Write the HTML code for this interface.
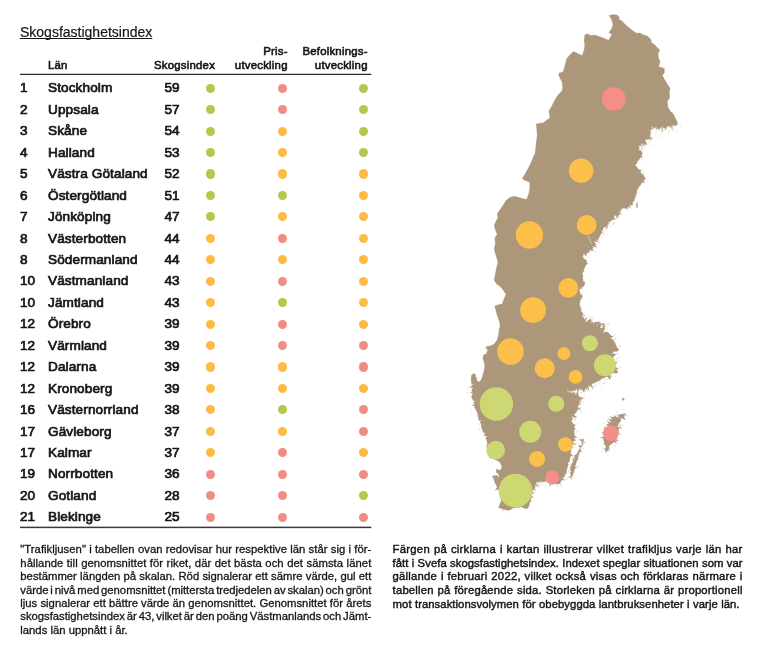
<!DOCTYPE html>
<html lang="sv"><head><meta charset="utf-8">
<title>Skogsfastighetsindex</title>
<style>
*{margin:0;padding:0;box-sizing:border-box}
html,body{width:768px;height:645px;background:#fff;overflow:hidden}
body{position:relative;font-family:"Liberation Sans",sans-serif;color:#151514}
.abs{position:absolute;white-space:nowrap}
.title{left:20px;top:22px;font-size:14px;line-height:20px;text-decoration:underline;text-underline-offset:1px;-webkit-text-stroke:0.2px #151514;text-decoration-thickness:1px;text-decoration-skip-ink:none}
.hd{font-size:11.4px;line-height:13.5px;letter-spacing:0.22px;-webkit-text-stroke:0.6px #151514;text-align:right}
.rule{position:absolute;left:20px;width:351px;height:0;border-top:1.3px solid #3c3c3b}
.row{position:absolute;left:20px;width:351px;height:21.445px;line-height:21.445px;font-size:13.6px;-webkit-text-stroke:0.7px #151514}
.row span{position:absolute;top:0;white-space:nowrap}
.row .r{left:0}
.row .n{left:28px;letter-spacing:0.1px}
.row .v{right:191.4px;text-align:right}
.dot{position:absolute;width:9.2px;height:9.2px;border-radius:50%}
.para div{position:absolute;left:0;white-space:nowrap;font-size:11.3px;line-height:13.4px;-webkit-text-stroke:0.3px #151514}
.para.rp div{-webkit-text-stroke:0.42px #151514}
svg{position:absolute;left:0;top:0}
</style></head><body>
<div id="txt" style="position:absolute;left:0;top:0;width:768px;height:645px;will-change:transform">
<div class="abs title">Skogsfastighetsindex</div>
<div class="abs hd" style="left:48px;top:58.6px;text-align:left">Län</div>
<div class="abs hd" style="left:154px;top:58.6px;text-align:left">Skogsindex</div>
<div class="abs hd" style="right:480.3px;top:45.1px">Pris-<br>utveckling</div>
<div class="abs hd" style="right:400.3px;top:45.1px">Befolknings-<br>utveckling</div>
<div class="row" style="top:77.40px"><span class="r">1</span><span class="n">Stockholm</span><span class="v">59</span></div>
<i class="dot" style="left:205.70px;top:83.62px;background:#b7c64e"></i>
<i class="dot" style="left:277.90px;top:83.62px;background:#f18c83"></i>
<i class="dot" style="left:358.90px;top:83.62px;background:#b7c64e"></i>
<div class="row" style="top:98.84px"><span class="r">2</span><span class="n">Uppsala</span><span class="v">57</span></div>
<i class="dot" style="left:205.70px;top:105.07px;background:#b7c64e"></i>
<i class="dot" style="left:277.90px;top:105.07px;background:#f18c83"></i>
<i class="dot" style="left:358.90px;top:105.07px;background:#b7c64e"></i>
<div class="row" style="top:120.29px"><span class="r">3</span><span class="n">Skåne</span><span class="v">54</span></div>
<i class="dot" style="left:205.70px;top:126.51px;background:#b7c64e"></i>
<i class="dot" style="left:277.90px;top:126.51px;background:#fdbb46"></i>
<i class="dot" style="left:358.90px;top:126.51px;background:#b7c64e"></i>
<div class="row" style="top:141.74px"><span class="r">4</span><span class="n">Halland</span><span class="v">53</span></div>
<i class="dot" style="left:205.70px;top:147.96px;background:#b7c64e"></i>
<i class="dot" style="left:277.90px;top:147.96px;background:#fdbb46"></i>
<i class="dot" style="left:358.90px;top:147.96px;background:#b7c64e"></i>
<div class="row" style="top:163.18px"><span class="r">5</span><span class="n">Västra Götaland</span><span class="v">52</span></div>
<i class="dot" style="left:205.70px;top:169.40px;background:#b7c64e"></i>
<i class="dot" style="left:277.90px;top:169.40px;background:#fdbb46"></i>
<i class="dot" style="left:358.90px;top:169.40px;background:#fdbb46"></i>
<div class="row" style="top:184.62px"><span class="r">6</span><span class="n">Östergötland</span><span class="v">51</span></div>
<i class="dot" style="left:205.70px;top:190.85px;background:#b7c64e"></i>
<i class="dot" style="left:277.90px;top:190.85px;background:#b7c64e"></i>
<i class="dot" style="left:358.90px;top:190.85px;background:#fdbb46"></i>
<div class="row" style="top:206.07px"><span class="r">7</span><span class="n">Jönköping</span><span class="v">47</span></div>
<i class="dot" style="left:205.70px;top:212.29px;background:#b7c64e"></i>
<i class="dot" style="left:277.90px;top:212.29px;background:#fdbb46"></i>
<i class="dot" style="left:358.90px;top:212.29px;background:#fdbb46"></i>
<div class="row" style="top:227.52px"><span class="r">8</span><span class="n">Västerbotten</span><span class="v">44</span></div>
<i class="dot" style="left:205.70px;top:233.74px;background:#fdbb46"></i>
<i class="dot" style="left:277.90px;top:233.74px;background:#f18c83"></i>
<i class="dot" style="left:358.90px;top:233.74px;background:#fdbb46"></i>
<div class="row" style="top:248.96px"><span class="r">8</span><span class="n">Södermanland</span><span class="v">44</span></div>
<i class="dot" style="left:205.70px;top:255.18px;background:#fdbb46"></i>
<i class="dot" style="left:277.90px;top:255.18px;background:#fdbb46"></i>
<i class="dot" style="left:358.90px;top:255.18px;background:#fdbb46"></i>
<div class="row" style="top:270.40px"><span class="r">10</span><span class="n">Västmanland</span><span class="v">43</span></div>
<i class="dot" style="left:205.70px;top:276.63px;background:#fdbb46"></i>
<i class="dot" style="left:277.90px;top:276.63px;background:#f18c83"></i>
<i class="dot" style="left:358.90px;top:276.63px;background:#fdbb46"></i>
<div class="row" style="top:291.85px"><span class="r">10</span><span class="n">Jämtland</span><span class="v">43</span></div>
<i class="dot" style="left:205.70px;top:298.07px;background:#fdbb46"></i>
<i class="dot" style="left:277.90px;top:298.07px;background:#b7c64e"></i>
<i class="dot" style="left:358.90px;top:298.07px;background:#fdbb46"></i>
<div class="row" style="top:313.30px"><span class="r">12</span><span class="n">Örebro</span><span class="v">39</span></div>
<i class="dot" style="left:205.70px;top:319.52px;background:#fdbb46"></i>
<i class="dot" style="left:277.90px;top:319.52px;background:#f18c83"></i>
<i class="dot" style="left:358.90px;top:319.52px;background:#fdbb46"></i>
<div class="row" style="top:334.74px"><span class="r">12</span><span class="n">Värmland</span><span class="v">39</span></div>
<i class="dot" style="left:205.70px;top:340.96px;background:#fdbb46"></i>
<i class="dot" style="left:277.90px;top:340.96px;background:#f18c83"></i>
<i class="dot" style="left:358.90px;top:340.96px;background:#f18c83"></i>
<div class="row" style="top:356.19px"><span class="r">12</span><span class="n">Dalarna</span><span class="v">39</span></div>
<i class="dot" style="left:205.70px;top:362.41px;background:#fdbb46"></i>
<i class="dot" style="left:277.90px;top:362.41px;background:#fdbb46"></i>
<i class="dot" style="left:358.90px;top:362.41px;background:#f18c83"></i>
<div class="row" style="top:377.63px"><span class="r">12</span><span class="n">Kronoberg</span><span class="v">39</span></div>
<i class="dot" style="left:205.70px;top:383.85px;background:#fdbb46"></i>
<i class="dot" style="left:277.90px;top:383.85px;background:#fdbb46"></i>
<i class="dot" style="left:358.90px;top:383.85px;background:#fdbb46"></i>
<div class="row" style="top:399.08px"><span class="r">16</span><span class="n">Västernorrland</span><span class="v">38</span></div>
<i class="dot" style="left:205.70px;top:405.30px;background:#fdbb46"></i>
<i class="dot" style="left:277.90px;top:405.30px;background:#b7c64e"></i>
<i class="dot" style="left:358.90px;top:405.30px;background:#f18c83"></i>
<div class="row" style="top:420.52px"><span class="r">17</span><span class="n">Gävleborg</span><span class="v">37</span></div>
<i class="dot" style="left:205.70px;top:426.74px;background:#fdbb46"></i>
<i class="dot" style="left:277.90px;top:426.74px;background:#fdbb46"></i>
<i class="dot" style="left:358.90px;top:426.74px;background:#f18c83"></i>
<div class="row" style="top:441.97px"><span class="r">17</span><span class="n">Kalmar</span><span class="v">37</span></div>
<i class="dot" style="left:205.70px;top:448.19px;background:#fdbb46"></i>
<i class="dot" style="left:277.90px;top:448.19px;background:#f18c83"></i>
<i class="dot" style="left:358.90px;top:448.19px;background:#fdbb46"></i>
<div class="row" style="top:463.41px"><span class="r">19</span><span class="n">Norrbotten</span><span class="v">36</span></div>
<i class="dot" style="left:205.70px;top:469.63px;background:#f18c83"></i>
<i class="dot" style="left:277.90px;top:469.63px;background:#f18c83"></i>
<i class="dot" style="left:358.90px;top:469.63px;background:#f18c83"></i>
<div class="row" style="top:484.86px"><span class="r">20</span><span class="n">Gotland</span><span class="v">28</span></div>
<i class="dot" style="left:205.70px;top:491.08px;background:#f18c83"></i>
<i class="dot" style="left:277.90px;top:491.08px;background:#f18c83"></i>
<i class="dot" style="left:358.90px;top:491.08px;background:#b7c64e"></i>
<div class="row" style="top:506.30px"><span class="r">21</span><span class="n">Blekinge</span><span class="v">25</span></div>
<i class="dot" style="left:205.70px;top:512.52px;background:#f18c83"></i>
<i class="dot" style="left:277.90px;top:512.52px;background:#f18c83"></i>
<i class="dot" style="left:358.90px;top:512.52px;background:#f18c83"></i>
<div class="para" style="position:absolute;left:20.3px;top:543.1px"><div id="L0" style="top:0.00px;letter-spacing:0.018px;word-spacing:0.100px">&quot;Trafikljusen&quot; i tabellen ovan redovisar hur respektive län står sig i för-</div><div id="L1" style="top:13.47px;letter-spacing:0.048px;word-spacing:0.256px">hållande till genomsnittet för riket, där det bästa och det sämsta länet</div><div id="L2" style="top:26.94px;letter-spacing:0.010px;word-spacing:0.056px">bestämmer längden på skalan. Röd signalerar ett sämre värde, gul ett</div><div id="L3" style="top:40.41px;letter-spacing:-0.025px;word-spacing:-1.200px">värde i nivå med genomsnittet (mittersta tredjedelen av skalan) och grönt</div><div id="L4" style="top:53.88px;letter-spacing:0.005px;word-spacing:0.030px">ljus signalerar ett bättre värde än genomsnittet. Genomsnittet för årets</div><div id="L5" style="top:67.35px;letter-spacing:-0.017px;word-spacing:-1.200px">skogsfastighetsindex är 43, vilket är den poäng Västmanlands och Jämt-</div><div id="L6" style="top:80.82px;letter-spacing:0.000px;word-spacing:0.000px">lands län uppnått i år.</div></div>
<div class="para rp" style="position:absolute;left:392.6px;top:543.2px"><div id="R0" style="top:0.00px;letter-spacing:0.262px;word-spacing:0.531px">Färgen på cirklarna i kartan illustrerar vilket trafikljus varje län har</div><div id="R1" style="top:13.60px;letter-spacing:0.044px;word-spacing:0.110px">fått i Svefa skogsfastighetsindex. Indexet speglar situationen som var</div><div id="R2" style="top:27.20px;letter-spacing:0.226px;word-spacing:0.434px">gällande i februari 2022, vilket också visas och förklaras närmare i</div><div id="R3" style="top:40.80px;letter-spacing:0.190px;word-spacing:0.455px">tabellen på föregående sida. Storleken på cirklarna är proportionell</div><div id="R4" style="top:54.40px;letter-spacing:0.055px;word-spacing:0.150px">mot transaktionsvolymen för obebyggda lantbruksenheter i varje län.</div></div>
</div>
<svg width="768" height="645" viewBox="0 0 768 645"><rect x="20" y="73.75" width="351.3" height="1.25" fill="#2b2b2a"/><rect x="20" y="526.65" width="351.3" height="1.5" fill="#3a3a39"/><g fill="#ad977a" stroke="#ad977a" stroke-width="0.3" stroke-linejoin="round"><polygon points="609.0,15.5 613.8,14.5 617.5,15.2 619.4,17.4 618.8,19.2 621.9,21.1 625.0,24.2 628.8,27.4 632.5,30.5 636.2,33.0 640.0,33.0 643.8,34.9 647.5,36.1 650.6,39.2 651.9,43.0 655.0,44.9 657.5,48.0 660.0,49.9 658.1,53.0 658.5,57.4 660.0,61.8 658.8,66.8 662.5,67.8 664.4,68.6 664.4,72.4 662.5,75.5 664.4,79.2 667.5,84.2 670.2,88.5 669.2,92.2 669.9,97.2 667.4,101.6 668.0,107.2 670.5,111.6 673.0,113.5 674.9,117.2 676.8,121.0 677.8,124.1 677.2,124.6 676.3,124.9 676.1,125.6 675.1,125.7 674.0,125.5 673.0,125.1 672.3,125.7 672.2,129.3 670.4,124.4 670.4,127.8 669.2,126.4 668.3,126.5 667.1,125.9 666.8,127.4 666.1,127.9 666.1,129.7 664.2,127.8 663.6,128.4 661.8,125.9 662.3,129.9 662.2,132.7 661.3,126.6 659.4,129.6 658.8,128.6 657.4,128.5 657.2,127.2 656.5,126.4 656.4,129.1 658.4,128.2 655.1,127.6 653.8,128.8 653.0,127.2 651.3,125.9 651.9,127.8 652.3,128.7 650.9,129.3 651.4,130.2 649.3,130.5 650.9,131.9 650.8,132.8 650.4,133.6 650.6,134.6 650.1,135.5 649.1,135.9 652.9,138.8 649.3,137.9 651.3,139.9 647.8,138.9 647.3,139.8 645.3,138.9 645.4,140.6 647.1,144.7 645.8,144.6 643.7,143.2 645.0,146.7 641.9,143.6 640.9,143.8 641.8,146.5 639.2,145.0 639.1,146.4 638.8,146.7 638.9,147.2 639.7,148.0 637.7,150.6 640.3,149.9 640.4,150.9 641.6,151.3 642.1,152.1 641.9,153.0 642.6,153.8 642.2,154.6 641.4,155.2 641.4,156.1 642.5,157.6 640.2,157.4 640.1,158.3 639.4,158.9 639.0,159.6 638.5,160.3 638.2,161.1 636.9,161.3 637.6,162.7 636.7,163.3 636.1,163.9 635.6,164.7 635.1,165.6 636.2,166.0 636.5,167.0 637.2,167.6 637.6,168.4 638.4,168.8 638.8,169.5 639.5,170.1 641.5,169.9 640.3,171.6 640.6,172.4 641.0,173.1 641.5,173.8 642.3,174.3 643.7,174.2 643.5,175.6 644.0,176.3 644.6,177.0 644.1,177.9 645.9,178.3 645.0,179.5 643.9,180.0 643.7,181.0 644.4,182.9 642.4,182.5 641.6,183.1 641.0,183.8 640.8,184.8 640.3,185.5 639.5,186.0 639.1,186.8 638.3,187.4 638.2,188.3 637.9,189.1 637.1,189.6 637.0,190.5 636.7,191.3 636.7,192.1 636.6,193.0 637.0,194.0 635.6,194.5 636.0,195.5 635.2,196.2 635.7,197.3 635.0,198.0 634.8,198.9 634.1,199.6 634.3,200.6 633.5,201.2 633.1,202.1 632.4,202.6 632.9,204.4 632.2,205.1 630.6,204.8 629.6,205.2 630.7,208.0 628.3,206.6 627.6,207.3 627.7,209.3 625.7,207.8 625.1,208.5 624.0,208.5 622.0,207.4 622.4,209.6 620.4,208.7 621.1,211.1 620.4,211.8 618.0,211.3 621.3,214.1 618.9,214.3 618.6,215.2 618.4,216.1 616.6,218.7 616.7,215.4 615.6,215.7 614.8,215.1 614.3,215.7 614.2,216.6 613.9,217.4 615.4,219.4 613.0,218.9 613.2,220.3 611.5,219.9 610.9,220.5 610.7,221.5 609.9,222.0 607.2,221.9 609.2,223.6 608.5,223.9 608.1,224.9 607.1,224.8 607.7,227.9 605.3,225.3 606.7,227.4 604.1,226.8 603.8,227.7 603.1,228.3 603.2,229.4 602.5,230.2 601.6,230.8 602.2,232.1 601.9,233.0 601.2,233.7 600.6,234.4 600.4,235.3 599.7,236.0 599.3,236.8 599.1,237.8 598.5,238.5 597.8,239.0 597.2,239.7 596.3,240.0 598.4,242.2 594.0,241.1 594.8,242.3 594.7,243.2 596.7,244.7 594.4,245.0 596.7,247.3 592.4,245.8 593.1,247.2 593.1,248.1 592.3,248.7 593.5,250.5 591.5,250.4 588.8,249.4 589.8,251.6 589.2,252.3 588.5,252.8 587.0,252.1 586.9,253.7 586.3,254.9 585.1,256.0 584.7,254.0 583.9,254.1 583.1,253.8 583.4,254.8 583.1,255.7 582.4,256.5 582.8,257.4 583.5,257.9 584.0,258.8 584.9,259.2 585.8,259.9 586.5,260.5 586.5,261.6 587.0,262.4 587.4,263.1 587.2,264.2 586.3,264.7 585.7,265.5 585.1,266.3 585.1,267.2 584.6,267.9 584.1,268.7 584.0,269.5 584.1,270.5 583.5,271.2 583.4,272.0 583.0,272.8 581.9,273.5 582.7,274.5 582.9,275.5 582.8,276.3 582.7,277.1 583.0,277.9 582.5,278.8 583.1,279.6 583.2,280.4 582.9,281.4 583.8,281.6 584.5,281.8 584.7,282.6 585.0,283.5 584.6,284.4 584.1,285.3 583.8,286.3 582.9,287.0 581.8,286.8 581.6,289.2 579.8,287.3 580.1,288.4 580.0,289.2 579.1,289.9 579.5,290.8 579.5,291.7 580.4,292.4 580.0,293.3 580.1,294.4 581.8,294.8 582.3,296.1 582.4,297.5 580.7,298.2 581.6,299.3 579.9,300.0 579.8,300.8 580.0,301.7 580.2,302.5 579.5,303.3 579.7,304.2 579.8,305.0 579.8,305.8 580.2,306.6 580.2,307.5 580.3,308.3 581.6,309.0 580.3,309.9 580.7,310.5 581.1,311.3 581.8,311.7 582.1,312.6 582.8,313.0 583.0,313.8 583.0,314.7 582.7,315.6 582.3,316.6 582.4,317.4 582.9,317.5 583.9,317.5 584.2,318.7 584.8,319.4 587.3,317.1 585.2,321.6 586.2,321.9 589.9,318.9 590.9,319.3 590.8,320.5 590.2,323.1 591.4,322.9 591.6,320.8 594.7,325.5 593.6,322.6 594.8,322.4 595.0,321.8 594.1,322.6 599.5,321.8 599.4,322.9 596.1,325.2 597.1,325.5 600.3,322.4 600.3,324.1 601.8,323.4 599.9,327.9 600.9,328.3 602.3,327.6 602.9,328.4 605.0,327.8 602.3,326.8 603.3,326.0 603.1,325.1 600.2,324.0 603.4,323.6 604.5,323.3 604.1,324.5 604.7,325.3 604.8,326.1 604.9,327.0 602.5,328.3 605.4,328.7 603.8,330.4 603.8,331.3 602.9,332.7 606.4,331.8 607.4,332.1 608.0,332.6 608.8,333.1 609.3,333.9 610.0,334.5 610.7,335.0 611.0,336.0 613.7,336.1 610.4,338.2 611.5,339.0 613.0,339.2 613.2,340.1 613.4,341.1 614.5,341.4 614.7,342.4 614.5,343.5 616.1,343.6 615.6,344.9 615.8,345.7 617.0,346.5 616.7,347.5 618.5,348.8 618.3,350.5 617.5,351.3 615.4,351.5 614.1,351.2 613.6,352.2 612.9,352.8 611.9,353.1 612.2,354.0 614.9,353.9 616.1,354.3 613.2,356.6 613.6,357.4 611.1,359.1 613.9,359.2 614.7,360.0 614.5,360.9 613.9,361.8 617.4,362.4 615.2,363.4 614.2,364.3 616.2,365.1 615.1,366.0 614.2,366.7 617.7,368.3 618.1,369.2 614.7,369.4 617.5,370.9 617.8,372.8 615.2,373.2 612.8,372.7 612.0,373.3 611.8,374.3 609.5,373.1 610.2,375.3 610.3,378.5 609.8,379.7 608.0,376.7 607.1,376.5 606.3,377.0 605.1,376.7 604.6,377.7 604.0,378.6 602.7,378.1 601.8,378.4 601.1,379.2 600.6,380.2 599.5,380.1 599.1,381.3 597.7,380.7 597.1,381.7 596.1,381.9 595.1,382.2 594.6,383.1 593.7,383.5 592.5,383.5 591.7,384.0 592.8,388.7 590.1,385.0 589.5,386.2 588.3,385.8 588.9,389.9 586.7,386.9 587.0,390.0 585.1,387.8 585.1,390.2 584.5,391.1 584.1,391.9 582.7,390.6 581.0,389.3 579.5,388.2 579.5,390.2 578.6,390.0 577.9,391.1 577.1,390.4 576.1,388.2 575.4,391.1 574.5,390.4 573.7,390.3 572.8,390.9 572.0,391.3 571.1,390.6 570.5,392.4 569.4,390.9 568.5,390.9 567.4,389.1 566.7,390.5 566.0,391.6 567.4,389.4 567.7,391.9 568.7,391.8 569.4,392.4 570.3,392.6 571.2,392.7 572.0,392.8 572.9,393.0 573.7,393.4 574.8,392.2 575.2,394.3 576.0,394.8 577.9,390.4 578.0,393.7 578.6,394.7 578.6,395.2 578.5,396.0 579.2,396.8 580.8,397.4 583.2,398.0 582.2,398.9 579.0,400.2 581.6,401.1 579.7,402.0 578.5,402.5 581.2,404.1 578.6,404.4 578.7,405.3 577.8,405.9 578.2,406.9 577.7,407.7 580.8,409.3 577.5,409.4 577.4,410.2 576.7,410.9 577.0,412.0 575.3,412.1 575.9,413.3 575.1,413.8 573.5,413.9 574.9,415.8 576.7,418.0 573.5,417.0 571.1,416.5 572.7,418.6 572.3,419.5 572.1,420.4 569.2,421.1 572.0,421.6 572.3,422.5 572.7,423.3 573.3,424.0 574.1,424.6 575.7,425.1 574.0,426.8 574.3,427.7 575.6,428.5 574.5,429.4 574.4,430.4 574.1,431.3 573.8,432.2 574.4,433.1 574.2,434.2 574.7,435.1 574.7,436.0 577.4,437.8 574.1,437.8 574.2,438.9 576.0,440.5 573.8,440.8 573.4,441.7 572.6,442.5 575.7,444.3 572.4,444.3 572.3,445.2 572.5,446.0 571.8,446.8 572.4,447.7 571.6,448.5 570.5,449.2 571.7,450.4 570.4,451.1 571.1,452.2 570.9,453.2 570.6,454.1 573.1,455.5 570.7,456.0 570.2,456.9 570.3,457.9 569.8,458.7 569.7,459.6 569.6,460.6 569.4,461.5 568.6,462.2 567.5,462.9 568.6,464.2 568.1,465.0 567.9,465.9 567.7,466.8 567.3,467.7 567.0,468.5 566.6,469.4 566.8,470.4 566.5,471.3 566.3,472.2 566.7,473.2 565.6,473.7 565.1,474.4 564.6,475.2 564.8,476.1 564.2,476.8 563.9,477.7 562.1,477.6 564.6,480.2 562.4,480.0 561.6,480.4 561.3,481.3 560.7,482.0 560.0,482.5 560.5,484.6 558.9,483.6 558.2,484.0 557.3,484.2 556.4,483.8 555.6,484.0 554.6,481.9 554.0,484.6 553.1,484.3 552.3,484.1 551.5,483.8 550.0,486.2 549.9,483.6 549.1,482.7 548.1,482.7 547.1,482.5 546.8,479.8 545.3,482.1 544.4,481.6 543.4,481.9 542.5,481.6 541.7,481.5 540.9,482.1 539.9,481.6 539.1,482.0 538.3,482.0 537.5,482.6 536.2,481.4 536.3,483.1 535.7,484.4 537.5,484.5 537.8,485.7 536.6,485.9 535.0,484.9 535.1,488.2 533.4,488.4 534.4,488.4 533.6,487.3 533.3,488.2 535.6,489.4 532.6,490.1 532.8,491.1 531.2,491.8 534.0,493.2 532.4,493.7 530.4,494.2 531.7,495.3 531.9,496.2 533.3,497.5 530.9,497.7 531.0,498.6 530.7,499.4 530.5,500.3 531.4,501.4 530.1,501.9 529.1,502.5 529.6,503.4 529.5,504.2 529.3,505.0 529.0,505.7 528.7,506.5 528.0,507.1 528.2,508.2 527.4,508.4 526.6,508.6 525.8,508.7 525.0,508.7 524.2,508.3 523.5,507.7 522.6,507.5 521.9,507.1 520.9,506.9 519.9,507.2 519.0,507.5 518.0,507.5 517.0,507.6 516.1,507.6 515.2,507.7 514.3,507.9 513.4,508.2 512.5,508.0 511.8,508.8 510.9,509.1 510.4,509.9 509.3,509.9 508.5,510.5 507.6,510.2 506.6,510.0 505.7,510.0 504.8,509.6 503.8,509.5 502.8,509.2 502.0,508.7 501.0,508.4 500.2,508.2 499.3,508.1 498.4,507.9 498.8,507.0 499.3,506.0 499.3,505.0 499.9,504.1 500.3,503.4 500.4,502.5 500.9,501.8 501.2,501.0 501.0,500.2 501.1,499.3 500.9,498.5 500.6,497.7 500.6,496.9 500.4,496.0 500.6,495.1 500.3,494.2 500.1,493.3 500.0,492.4 499.8,491.5 499.6,490.7 499.4,489.9 498.5,489.5 497.5,489.5 495.5,489.7 496.7,488.1 497.4,487.3 496.7,486.6 496.6,485.7 496.1,485.0 495.8,484.3 495.3,483.5 494.9,482.6 494.6,481.7 494.2,480.7 494.0,479.8 493.9,478.8 493.5,477.9 492.3,477.2 492.7,475.9 493.8,475.8 494.6,475.6 495.5,475.4 496.7,475.3 497.5,476.0 498.1,476.9 499.2,477.4 499.0,476.4 498.8,475.7 498.8,474.9 498.6,474.0 497.8,473.4 496.9,472.8 496.0,472.3 496.1,471.4 496.5,470.6 496.0,468.8 497.6,469.8 498.5,470.1 499.4,470.3 500.3,470.3 500.8,469.6 501.2,468.8 501.7,468.1 501.9,467.2 501.7,466.5 501.3,465.7 501.3,464.9 500.9,464.2 500.4,463.5 499.9,462.7 499.6,461.8 498.6,461.5 497.7,460.9 496.9,460.3 495.9,460.0 495.2,459.5 494.4,459.1 493.4,459.0 492.7,458.6 491.8,458.3 491.0,457.9 489.6,458.2 489.6,457.0 489.2,456.2 488.6,455.6 487.9,455.0 487.8,454.2 487.5,453.4 487.4,452.5 487.3,451.7 487.0,450.9 486.8,450.0 487.2,449.1 487.1,448.3 487.1,447.4 486.1,446.5 487.3,445.7 487.2,444.8 487.2,444.0 487.1,443.1 487.4,442.2 486.9,441.3 486.7,440.4 486.2,439.5 485.9,438.5 486.0,437.5 487.4,436.0 484.6,436.0 484.5,435.1 484.6,434.1 485.8,432.6 483.2,433.0 483.6,431.8 482.3,431.5 482.9,430.4 482.3,429.6 481.9,428.8 481.6,428.0 481.4,427.2 481.6,426.2 481.0,425.4 481.3,424.3 480.8,423.4 480.0,422.6 480.2,421.7 481.8,419.9 479.0,420.4 478.5,419.7 478.5,418.8 478.7,417.9 478.1,417.1 478.0,416.3 478.1,415.4 477.4,414.7 477.9,413.8 477.6,412.9 477.0,412.1 476.9,411.1 476.1,410.4 475.8,409.5 475.3,408.6 474.5,407.9 474.6,406.9 475.0,405.9 472.3,405.6 474.6,404.2 473.9,403.4 473.7,402.6 475.8,401.2 473.5,400.9 473.3,400.1 472.7,399.3 471.9,398.6 471.8,397.5 471.5,396.5 471.8,395.7 472.0,394.8 472.2,393.9 473.2,393.1 470.4,392.6 472.4,391.4 471.9,390.6 471.9,389.7 472.1,388.8 473.8,387.7 469.6,387.4 472.0,386.2 471.4,385.5 473.7,384.3 471.5,383.8 471.5,382.9 471.3,382.1 471.2,381.3 471.1,380.4 471.2,379.6 471.0,378.8 471.2,377.8 471.2,376.9 471.4,375.9 471.6,375.0 472.2,374.5 472.8,373.9 473.5,373.4 474.5,373.8 475.3,374.5 475.5,375.2 475.8,375.9 475.4,376.8 476.5,377.4 476.8,378.3 476.6,379.4 477.0,380.3 477.3,381.2 478.1,381.5 478.9,381.7 479.7,381.7 480.1,381.1 480.7,380.3 481.1,379.5 481.6,378.7 482.0,377.8 482.2,376.9 482.7,376.0 482.8,375.0 483.1,374.2 483.4,373.3 483.6,372.5 483.7,371.7 484.0,370.8 484.1,370.0 484.2,369.2 484.3,368.3 484.4,367.5 484.6,366.7 484.6,365.8 484.7,365.0 484.6,364.2 484.3,363.3 484.0,362.5 483.9,361.7 483.7,360.8 483.5,360.0 482.8,359.0 483.4,355.2 486.5,353.4 487.8,349.6 485.9,348.4 486.5,346.5 490.2,345.9 494.0,344.0 497.1,340.2 498.4,335.2 499.0,330.2 500.2,325.2 499.0,320.2 497.1,315.2 495.9,310.2 494.6,305.9 499.0,304.6 502.1,304.0 504.0,299.0 505.9,294.6 503.4,290.2 500.2,286.5 496.5,284.0 494.1,280.0 495.4,273.8 496.6,267.5 497.9,262.5 497.0,258.8 495.4,253.8 494.1,248.8 495.4,243.8 494.8,238.1 497.2,234.4 495.4,230.0 494.1,225.6 496.0,221.2 497.9,217.5 497.2,213.8 499.8,210.0 502.9,205.6 506.0,200.6 509.8,197.5 514.1,196.2 519.1,197.5 523.5,198.8 526.6,199.4 529.1,192.5 529.8,187.5 529.8,182.5 527.2,181.2 524.1,180.0 522.2,178.5 525.0,174.1 528.1,168.5 531.2,162.2 533.1,157.2 535.0,153.5 535.6,148.5 536.2,142.2 537.2,136.0 536.9,131.0 536.2,124.1 539.4,123.2 543.1,122.9 546.2,120.4 550.0,117.9 548.8,111.0 551.9,106.0 553.5,102.5 556.0,98.1 559.1,93.8 562.2,90.6 562.5,87.5 562.2,82.5 560.4,78.8 558.5,75.0 559.1,73.1 562.9,71.9 564.1,68.8 565.4,63.8 566.6,58.8 569.8,55.0 573.5,51.5 578.5,53.8 582.2,55.6 584.1,50.0 584.8,45.0 584.1,40.0 584.8,35.0 587.2,33.8 591.0,35.6 594.8,35.0 598.5,36.2 603.5,38.1 608.5,40.2 609.5,38.5 611.9,34.5 608.7,32.5 611.6,28.9 612.9,24.8 612.0,20.6 610.3,17.2"/><polygon points="583.1,438.5 583.7,439.6 583.5,440.4 583.4,441.3 583.4,442.3 583.3,443.2 582.6,444.1 582.6,445.0 582.2,445.9 581.6,446.6 581.2,447.5 581.0,448.3 580.6,449.1 580.5,450.0 582.1,451.5 580.0,451.7 579.4,452.5 579.3,453.3 579.2,454.2 578.7,455.0 578.3,455.8 578.2,456.7 577.8,457.5 577.8,458.4 578.6,459.6 577.0,460.0 576.9,460.9 576.6,461.7 576.2,462.5 575.9,463.3 575.8,464.1 575.7,465.0 575.4,465.8 574.4,466.5 576.6,467.9 574.9,468.3 574.6,469.2 574.3,470.0 574.2,470.9 574.0,471.8 573.7,472.7 573.3,473.6 572.9,474.4 572.7,475.3 572.4,476.2 570.9,476.5 571.8,477.8 571.7,478.6 571.2,479.5 571.2,478.6 571.2,477.8 568.9,477.3 570.8,476.3 570.6,475.4 570.8,474.6 570.4,473.8 570.4,472.9 570.6,472.1 571.7,471.2 570.4,470.4 570.4,469.5 570.5,468.6 570.4,467.8 570.5,466.9 570.8,466.0 571.4,465.3 571.6,464.5 571.9,463.6 572.4,462.9 572.7,462.0 573.2,461.3 573.5,460.5 571.9,458.7 574.2,458.9 574.7,458.1 573.9,456.7 575.3,456.5 574.2,455.0 576.2,455.0 576.7,454.2 576.9,453.4 577.5,452.7 577.9,451.9 578.2,451.1 578.7,450.4 579.1,449.6 579.5,448.8 581.1,448.4 580.0,447.2 578.1,445.7 580.5,445.6 583.3,445.7 581.1,444.0 582.9,443.6 581.6,442.2 582.0,441.4 579.2,439.6 582.5,439.6 583.3,438.7"/><polygon points="625.5,413.7 625.3,414.6 624.6,415.3 624.5,416.3 623.7,416.9 625.6,419.7 622.4,418.4 619.7,417.5 621.3,420.0 620.7,420.8 620.3,421.8 619.4,422.4 618.9,423.2 618.8,424.0 618.0,424.6 618.1,425.6 617.3,426.2 617.6,427.2 621.2,427.3 618.2,429.1 618.6,430.0 618.3,430.8 618.7,431.7 618.6,432.5 618.4,433.3 618.7,434.2 616.1,434.3 618.2,435.9 617.4,436.6 617.0,437.4 616.4,438.2 616.2,439.1 617.9,441.3 614.9,440.5 616.7,443.6 614.0,442.1 613.2,442.6 612.6,443.2 611.8,443.8 610.9,444.3 610.3,445.1 609.4,445.6 609.0,446.4 608.9,447.2 609.7,448.5 608.0,448.7 609.1,450.2 607.2,450.4 607.1,451.4 606.3,451.8 605.7,452.2 604.9,452.6 606.7,451.8 605.1,450.8 605.9,450.1 603.8,448.7 605.9,448.5 605.9,447.6 606.3,446.9 605.7,446.2 605.2,445.4 604.6,444.7 604.2,443.8 604.3,442.8 604.3,441.8 603.7,441.0 603.7,440.0 603.4,439.2 603.4,438.3 600.3,437.6 605.7,436.5 603.7,435.7 604.9,434.8 603.3,434.0 601.7,432.7 603.6,432.3 604.3,431.6 604.3,430.8 604.6,430.1 605.0,429.3 604.0,427.1 606.1,428.0 606.8,427.4 607.6,426.9 608.1,426.3 606.2,424.5 608.6,424.3 608.7,423.3 607.1,421.3 611.9,423.1 608.3,419.1 611.1,419.9 611.9,419.3 610.2,416.6 613.0,417.6 613.7,416.7 616.4,415.3 615.0,418.1 615.8,417.3 616.8,416.8 618.4,418.3 618.7,416.2 618.3,414.0 620.4,415.0 621.1,414.1 622.1,414.3 622.9,413.7 623.8,413.9 624.7,413.5 625.6,413.6"/><polygon points="622.1,398.4 623.6,398.1 624.4,399.6 623.4,400.6 622.4,400.0"/><polygon points="636.4,203.3 637.4,203.1 637.7,206.0 637.2,208.1 636.5,207.5"/></g><g fill="#ad977a"><polygon points="680.1,126.9 680.8,126.2 680.9,125.2 680.2,125.9" opacity="0.63"/><polygon points="677.6,131.2 678.1,130.8 678.2,130.1 677.7,130.5" opacity="0.59"/><polygon points="675.0,129.9 675.7,129.6 676.0,128.9 675.4,129.2" opacity="0.62"/><polygon points="672.4,131.3 673.3,130.7 673.7,129.7 672.8,130.3" opacity="0.64"/><polygon points="672.2,129.3 672.8,128.5 672.9,127.5 672.3,128.3" opacity="0.76"/><polygon points="672.2,130.5 673.1,130.2 673.6,129.4 672.7,129.7" opacity="0.71"/><polygon points="671.3,131.0 672.1,130.7 672.7,129.9 671.8,130.3" opacity="0.41"/><polygon points="669.1,132.0 669.7,131.5 669.8,130.8 669.3,131.3" opacity="0.40"/><polygon points="667.2,133.9 668.2,133.1 668.6,131.9 667.6,132.7" opacity="0.44"/><polygon points="666.1,129.6 666.5,129.2 666.6,128.6 666.1,129.1" opacity="0.72"/><polygon points="663.2,131.3 664.0,130.7 664.4,129.8 663.6,130.4" opacity="0.73"/><polygon points="662.1,130.6 662.7,130.2 662.9,129.6 662.3,129.9" opacity="0.76"/><polygon points="657.7,130.3 658.8,129.9 659.5,129.0 658.4,129.4" opacity="0.88"/><polygon points="656.5,130.3 657.1,129.9 657.5,129.2 656.8,129.6" opacity="0.90"/><polygon points="654.8,130.9 655.7,130.6 656.2,129.8 655.4,130.1" opacity="0.59"/><polygon points="652.6,129.4 653.2,128.7 653.4,127.7 652.7,128.4" opacity="0.90"/><polygon points="651.5,129.6 652.4,129.2 652.9,128.3 652.0,128.8" opacity="0.90"/><polygon points="650.9,138.1 652.0,137.7 652.7,136.7 651.6,137.1" opacity="0.69"/><polygon points="648.2,142.1 648.8,141.9 649.2,141.4 648.5,141.6" opacity="0.84"/><polygon points="642.4,145.2 642.9,144.7 643.0,144.0 642.5,144.5" opacity="0.72"/><polygon points="642.0,147.6 642.7,146.9 642.9,145.8 642.2,146.6" opacity="0.78"/><polygon points="638.5,147.0 639.4,146.2 639.7,145.0 638.8,145.9" opacity="0.79"/><polygon points="641.4,149.1 642.6,148.4 643.1,147.1 641.9,147.8" opacity="0.62"/><polygon points="642.3,149.0 643.0,148.6 643.2,147.9 642.6,148.3" opacity="0.58"/><polygon points="640.8,150.5 641.7,149.9 642.2,148.9 641.3,149.5" opacity="0.90"/><polygon points="643.2,150.4 644.2,149.8 644.8,148.7 643.7,149.3" opacity="0.62"/><polygon points="644.0,157.9 645.0,157.3 645.5,156.3 644.5,156.9" opacity="0.33"/><polygon points="642.4,159.7 643.1,159.2 643.4,158.4 642.7,158.9" opacity="0.45"/><polygon points="640.9,159.9 641.6,159.5 642.0,158.7 641.2,159.2" opacity="0.60"/><polygon points="641.2,162.2 642.1,161.9 642.6,161.0 641.7,161.4" opacity="0.39"/><polygon points="642.8,170.3 643.4,169.8 643.7,168.9 643.0,169.5" opacity="0.35"/><polygon points="642.2,172.6 642.9,172.3 643.3,171.7 642.6,171.9" opacity="0.86"/><polygon points="642.0,172.5 642.7,172.1 643.0,171.4 642.3,171.8" opacity="0.75"/><polygon points="643.1,184.4 643.6,183.9 643.6,183.2 643.2,183.7" opacity="0.69"/><polygon points="638.6,193.5 639.1,193.0 639.1,192.3 638.7,192.8" opacity="0.47"/><polygon points="639.3,193.8 640.2,193.1 640.6,192.0 639.7,192.7" opacity="0.25"/><polygon points="637.3,196.5 637.9,195.8 638.0,194.9 637.4,195.6" opacity="0.61"/><polygon points="636.5,202.3 637.4,201.2 637.5,199.8 636.6,200.9" opacity="0.30"/><polygon points="631.0,206.2 632.0,205.5 632.3,204.4 631.4,205.1" opacity="0.76"/><polygon points="630.7,209.0 631.2,208.5 631.4,207.8 630.8,208.3" opacity="0.50"/><polygon points="629.1,211.4 629.7,211.0 629.9,210.3 629.4,210.7" opacity="0.55"/><polygon points="625.9,210.0 627.0,209.1 627.4,207.8 626.3,208.7" opacity="0.89"/><polygon points="626.4,210.6 627.1,210.2 627.4,209.5 626.8,209.9" opacity="0.73"/><polygon points="619.4,213.9 620.4,213.1 620.8,211.9 619.8,212.7" opacity="0.90"/><polygon points="614.0,220.1 615.2,219.6 615.9,218.5 614.7,219.0" opacity="0.37"/><polygon points="617.8,219.1 618.7,218.6 619.1,217.6 618.2,218.1" opacity="0.38"/><polygon points="614.0,223.7 615.0,223.0 615.5,221.9 614.4,222.6" opacity="0.41"/><polygon points="612.9,225.1 613.8,224.2 614.0,223.0 613.1,223.9" opacity="0.57"/><polygon points="612.8,223.3 613.6,223.0 614.0,222.2 613.2,222.6" opacity="0.36"/><polygon points="612.0,223.2 612.7,222.8 613.0,222.0 612.3,222.5" opacity="0.56"/><polygon points="610.7,226.6 611.8,225.9 612.3,224.7 611.2,225.4" opacity="0.62"/><polygon points="606.5,229.4 607.3,228.7 607.6,227.5 606.7,228.3" opacity="0.39"/><polygon points="606.4,229.5 607.2,228.7 607.4,227.7 606.6,228.4" opacity="0.73"/><polygon points="604.9,229.8 606.1,229.2 606.7,228.1 605.5,228.6" opacity="0.77"/><polygon points="605.2,231.4 605.8,231.1 606.1,230.6 605.5,230.9" opacity="0.45"/><polygon points="603.2,232.9 604.4,232.3 605.1,231.2 603.9,231.7" opacity="0.78"/><polygon points="602.5,235.2 603.6,234.6 604.1,233.5 603.1,234.1" opacity="0.86"/><polygon points="600.7,238.4 602.0,237.8 602.6,236.6 601.4,237.2" opacity="0.69"/><polygon points="598.0,240.6 598.9,239.6 599.1,238.3 598.2,239.2" opacity="0.63"/><polygon points="597.5,241.1 598.5,240.6 599.0,239.6 598.0,240.1" opacity="0.90"/><polygon points="598.6,243.8 599.7,243.2 600.2,242.0 599.1,242.6" opacity="0.37"/><polygon points="596.9,242.7 597.5,242.1 597.7,241.4 597.1,241.9" opacity="0.78"/><polygon points="594.6,247.9 595.5,246.8 595.6,245.4 594.7,246.5" opacity="0.88"/><polygon points="594.1,248.5 594.6,248.2 594.9,247.6 594.4,247.9" opacity="0.64"/><polygon points="595.1,252.9 596.0,252.0 596.3,250.7 595.3,251.6" opacity="0.39"/><polygon points="588.6,258.9 589.6,257.9 589.7,256.5 588.8,257.5" opacity="0.33"/><polygon points="582.6,258.2 583.7,257.4 584.1,256.1 583.1,256.9" opacity="0.58"/><polygon points="585.4,258.3 586.6,257.6 587.1,256.3 585.9,257.0" opacity="0.47"/><polygon points="589.4,264.4 590.0,263.8 590.2,263.0 589.6,263.6" opacity="0.50"/><polygon points="589.3,266.1 589.9,265.8 590.3,265.2 589.6,265.5" opacity="0.45"/><polygon points="584.5,279.2 585.4,278.6 585.8,277.7 584.9,278.3" opacity="0.66"/><polygon points="579.8,289.4 580.8,288.9 581.4,288.0 580.3,288.4" opacity="0.85"/><polygon points="582.4,291.3 583.2,290.9 583.7,290.2 582.9,290.5" opacity="0.46"/><polygon points="581.0,294.7 582.2,293.9 582.7,292.5 581.5,293.4" opacity="0.58"/><polygon points="580.1,294.8 580.7,294.6 581.1,294.1 580.5,294.3" opacity="0.70"/><polygon points="583.2,300.2 583.9,299.8 584.3,298.9 583.5,299.4" opacity="0.30"/><polygon points="580.5,307.4 581.7,307.0 582.4,305.9 581.2,306.4" opacity="0.54"/><polygon points="581.8,310.8 582.5,310.0 582.6,309.1 581.9,309.8" opacity="0.78"/><polygon points="585.5,316.2 585.9,315.7 586.0,315.1 585.6,315.6" opacity="0.63"/><polygon points="582.9,316.7 583.4,316.3 583.7,315.8 583.1,316.1" opacity="0.83"/><polygon points="583.2,316.1 584.2,315.2 584.5,313.8 583.5,314.8" opacity="0.50"/><polygon points="583.7,317.0 584.7,316.0 585.0,314.7 584.0,315.6" opacity="0.56"/><polygon points="589.8,318.3 590.8,317.4 591.1,316.0 590.1,317.0" opacity="0.69"/><polygon points="592.4,318.5 593.1,317.9 593.4,316.9 592.6,317.5" opacity="0.56"/><polygon points="591.4,319.4 592.4,318.5 592.7,317.2 591.7,318.1" opacity="0.54"/><polygon points="590.6,322.3 591.5,321.4 591.6,320.0 590.7,321.0" opacity="0.90"/><polygon points="591.9,320.7 592.5,320.3 592.7,319.5 592.1,320.0" opacity="0.83"/><polygon points="588.9,320.0 589.5,319.8 589.8,319.3 589.3,319.5" opacity="0.53"/><polygon points="589.8,320.8 590.8,320.2 591.4,319.1 590.3,319.7" opacity="0.54"/><polygon points="600.4,321.8 601.0,321.6 601.4,321.1 600.8,321.3" opacity="0.50"/><polygon points="597.3,324.1 597.8,323.8 598.0,323.2 597.5,323.6" opacity="0.82"/><polygon points="598.2,323.0 599.4,322.3 599.9,321.0 598.7,321.7" opacity="0.55"/><polygon points="597.8,325.3 598.6,324.3 598.7,323.1 597.9,324.1" opacity="0.70"/><polygon points="602.4,324.6 603.3,324.2 603.9,323.3 602.9,323.7" opacity="0.52"/><polygon points="607.7,324.7 608.9,324.1 609.4,322.8 608.3,323.5" opacity="0.51"/><polygon points="606.1,324.8 607.2,324.4 607.8,323.5 606.8,323.9" opacity="0.77"/><polygon points="605.6,326.3 606.3,325.6 606.5,324.7 605.8,325.4" opacity="0.78"/><polygon points="606.4,328.8 607.2,328.3 607.5,327.5 606.8,327.9" opacity="0.65"/><polygon points="607.0,330.1 607.5,329.7 607.6,329.1 607.1,329.5" opacity="0.86"/><polygon points="610.0,330.2 610.9,329.6 611.3,328.5 610.4,329.2" opacity="0.63"/><polygon points="614.4,336.0 615.4,335.1 615.8,333.8 614.7,334.7" opacity="0.74"/><polygon points="614.4,339.4 615.7,338.8 616.3,337.6 615.1,338.2" opacity="0.75"/><polygon points="617.2,340.5 618.1,340.3 618.6,339.6 617.8,339.9" opacity="0.75"/><polygon points="619.0,346.8 619.7,345.9 619.8,344.7 619.1,345.6" opacity="0.65"/><polygon points="619.2,347.4 620.1,346.8 620.6,345.8 619.6,346.4" opacity="0.82"/><polygon points="616.8,354.2 617.7,353.5 618.0,352.5 617.1,353.2" opacity="0.77"/><polygon points="612.8,354.0 613.6,353.7 614.1,353.0 613.3,353.3" opacity="0.90"/><polygon points="617.5,353.1 618.1,352.7 618.4,352.0 617.8,352.4" opacity="0.41"/><polygon points="614.6,355.1 615.1,354.5 615.1,353.7 614.6,354.3" opacity="0.84"/><polygon points="615.2,355.6 616.1,355.2 616.6,354.4 615.7,354.8" opacity="0.87"/><polygon points="618.7,357.5 619.4,356.8 619.6,355.8 618.9,356.5" opacity="0.43"/><polygon points="618.7,358.5 619.5,357.8 619.7,356.8 618.9,357.5" opacity="0.57"/><polygon points="616.5,359.9 617.5,359.1 617.9,357.8 616.9,358.7" opacity="0.77"/><polygon points="615.5,361.7 616.4,361.4 616.9,360.6 616.0,361.0" opacity="0.90"/><polygon points="618.4,362.6 619.3,362.2 619.7,361.3 618.8,361.8" opacity="0.64"/><polygon points="616.7,364.7 617.5,364.2 617.8,363.5 617.1,363.9" opacity="0.67"/><polygon points="617.6,366.3 618.1,366.0 618.4,365.5 617.9,365.8" opacity="0.78"/><polygon points="619.3,368.9 620.2,368.1 620.6,367.0 619.6,367.7" opacity="0.54"/><polygon points="616.9,373.0 617.9,372.7 618.5,371.9 617.5,372.2" opacity="0.61"/><polygon points="614.3,373.1 615.4,372.6 615.9,371.5 614.9,372.1" opacity="0.74"/><polygon points="614.7,376.8 615.6,376.4 616.1,375.4 615.2,375.9" opacity="0.54"/><polygon points="611.4,376.5 612.4,375.8 612.7,374.7 611.8,375.4" opacity="0.77"/><polygon points="611.0,377.8 611.8,376.9 612.0,375.7 611.2,376.6" opacity="0.90"/><polygon points="608.2,378.5 609.4,378.1 610.0,377.0 608.9,377.5" opacity="0.73"/><polygon points="605.9,380.5 606.8,379.6 607.1,378.4 606.2,379.3" opacity="0.60"/><polygon points="604.9,383.4 605.8,382.4 606.0,381.0 605.0,382.1" opacity="0.44"/><polygon points="603.3,384.4 604.0,383.8 604.2,382.8 603.5,383.5" opacity="0.55"/><polygon points="601.2,382.6 601.8,382.0 602.0,381.1 601.4,381.7" opacity="0.65"/><polygon points="594.6,386.1 595.3,385.3 595.4,384.3 594.7,385.0" opacity="0.90"/><polygon points="594.1,387.6 594.8,386.8 594.9,385.7 594.2,386.5" opacity="0.68"/><polygon points="592.0,388.1 593.0,387.6 593.6,386.6 592.6,387.1" opacity="0.58"/><polygon points="590.5,387.6 591.3,386.7 591.5,385.5 590.6,386.4" opacity="0.90"/><polygon points="591.7,389.6 592.6,388.9 593.0,387.8 592.0,388.5" opacity="0.74"/><polygon points="589.6,391.3 590.2,390.9 590.4,390.2 589.8,390.6" opacity="0.61"/><polygon points="587.5,390.5 588.7,389.9 589.3,388.7 588.1,389.3" opacity="0.57"/><polygon points="587.2,391.5 587.8,390.9 588.0,390.0 587.4,390.6" opacity="0.76"/><polygon points="584.2,393.7 584.8,393.1 584.9,392.3 584.3,392.9" opacity="0.61"/><polygon points="582.3,392.8 583.3,392.5 583.9,391.7 582.9,392.0" opacity="0.49"/><polygon points="574.4,396.5 575.0,395.9 575.2,395.2 574.6,395.7" opacity="0.33"/><polygon points="572.6,392.8 573.6,392.2 574.0,391.1 573.0,391.7" opacity="0.90"/><polygon points="571.4,393.1 572.2,392.7 572.6,392.0 571.8,392.4" opacity="0.78"/><polygon points="570.9,395.4 571.5,395.0 571.8,394.4 571.2,394.7" opacity="0.63"/><polygon points="568.6,392.0 569.4,391.1 569.5,389.9 568.7,390.8" opacity="0.90"/><polygon points="573.2,393.5 574.2,392.7 574.5,391.5 573.5,392.3" opacity="0.90"/><polygon points="574.2,392.9 574.9,392.6 575.4,392.0 574.7,392.3" opacity="0.82"/><polygon points="576.9,388.8 577.7,388.4 578.1,387.7 577.3,388.0" opacity="0.42"/><polygon points="577.4,390.7 577.9,390.3 578.2,389.7 577.6,390.1" opacity="0.57"/><polygon points="577.6,392.8 578.1,392.3 578.3,391.5 577.7,392.0" opacity="0.87"/><polygon points="580.5,393.6 581.5,392.7 581.8,391.4 580.8,392.3" opacity="0.71"/><polygon points="583.6,397.8 584.5,396.9 584.8,395.6 583.8,396.5" opacity="0.59"/><polygon points="580.2,398.0 581.0,397.7 581.5,397.0 580.7,397.3" opacity="0.90"/><polygon points="581.2,400.0 582.3,399.1 582.6,397.7 581.6,398.6" opacity="0.78"/><polygon points="582.9,402.6 583.6,401.9 583.7,400.9 583.0,401.6" opacity="0.49"/><polygon points="583.5,404.2 584.1,403.7 584.2,402.9 583.7,403.4" opacity="0.32"/><polygon points="580.2,406.3 580.9,405.8 581.2,404.9 580.5,405.5" opacity="0.57"/><polygon points="578.8,408.6 580.0,408.2 580.7,407.2 579.6,407.6" opacity="0.65"/><polygon points="580.0,410.9 581.0,410.1 581.3,409.0 580.4,409.7" opacity="0.57"/><polygon points="580.8,413.8 581.7,413.3 582.0,412.3 581.2,412.9" opacity="0.33"/><polygon points="576.4,416.9 577.1,416.1 577.2,415.2 576.5,415.9" opacity="0.67"/><polygon points="573.7,419.0 574.4,418.4 574.5,417.6 573.9,418.2" opacity="0.90"/><polygon points="574.2,420.9 574.8,420.2 574.9,419.3 574.3,420.0" opacity="0.65"/><polygon points="574.3,420.1 575.3,419.7 575.8,418.9 574.9,419.3" opacity="0.57"/><polygon points="576.7,424.6 577.6,423.7 577.7,422.5 576.9,423.4" opacity="0.45"/><polygon points="579.3,431.3 579.9,430.7 580.1,429.9 579.5,430.5" opacity="0.48"/><polygon points="575.6,432.7 576.6,431.8 576.9,430.6 575.9,431.5" opacity="0.64"/><polygon points="575.7,433.2 576.5,432.5 576.8,431.4 576.0,432.1" opacity="0.66"/><polygon points="578.6,439.7 579.5,439.3 579.9,438.4 579.1,438.8" opacity="0.46"/><polygon points="578.7,439.1 579.3,438.8 579.6,438.2 579.0,438.5" opacity="0.55"/><polygon points="577.6,441.5 578.4,440.8 578.7,439.8 577.9,440.5" opacity="0.47"/><polygon points="575.5,444.4 576.4,443.7 576.8,442.6 575.9,443.3" opacity="0.66"/><polygon points="574.3,446.6 575.0,445.8 575.1,444.8 574.4,445.5" opacity="0.44"/><polygon points="573.5,448.4 574.3,447.6 574.5,446.4 573.7,447.2" opacity="0.72"/><polygon points="574.2,449.9 574.8,449.2 574.9,448.2 574.2,449.0" opacity="0.51"/><polygon points="574.8,452.7 575.9,452.0 576.4,450.7 575.3,451.5" opacity="0.25"/><polygon points="572.0,458.1 572.9,457.1 573.1,455.8 572.2,456.8" opacity="0.62"/><polygon points="569.5,465.7 570.6,465.0 571.0,463.8 570.0,464.5" opacity="0.64"/><polygon points="571.1,468.0 571.8,467.7 572.2,467.1 571.5,467.4" opacity="0.39"/><polygon points="568.1,471.9 569.3,471.3 569.9,470.1 568.7,470.7" opacity="0.62"/><polygon points="567.9,473.4 568.9,473.0 569.5,472.0 568.5,472.5" opacity="0.53"/><polygon points="567.6,478.3 568.1,477.8 568.3,477.1 567.8,477.6" opacity="0.56"/><polygon points="565.7,480.5 566.8,479.7 567.3,478.4 566.2,479.2" opacity="0.68"/><polygon points="561.7,486.4 562.6,486.0 563.0,485.1 562.2,485.6" opacity="0.54"/><polygon points="560.6,487.2 561.5,486.6 561.9,485.6 561.0,486.2" opacity="0.25"/><polygon points="560.5,487.1 561.4,486.8 561.9,486.1 561.1,486.4" opacity="0.50"/><polygon points="556.6,487.8 557.2,487.1 557.3,486.3 556.7,486.9" opacity="0.57"/><polygon points="556.9,486.5 557.7,486.2 558.3,485.5 557.4,485.8" opacity="0.84"/><polygon points="555.6,486.7 556.2,486.2 556.4,485.4 555.8,485.9" opacity="0.66"/><polygon points="548.9,485.0 549.9,484.3 550.2,483.2 549.3,483.9" opacity="0.90"/><polygon points="545.0,484.6 546.0,484.2 546.5,483.3 545.6,483.7" opacity="0.74"/><polygon points="542.6,486.1 543.2,485.7 543.6,485.1 542.9,485.4" opacity="0.49"/><polygon points="541.9,485.6 542.4,485.0 542.5,484.2 542.0,484.8" opacity="0.52"/><polygon points="541.0,483.9 541.9,483.1 542.3,481.9 541.3,482.7" opacity="0.88"/><polygon points="542.0,485.3 542.5,484.9 542.7,484.3 542.2,484.7" opacity="0.55"/><polygon points="539.6,484.1 540.4,483.7 540.7,482.9 540.0,483.4" opacity="0.67"/><polygon points="538.4,485.6 539.4,485.1 539.9,484.1 538.9,484.6" opacity="0.62"/><polygon points="537.3,487.9 538.3,487.0 538.7,485.6 537.6,486.5" opacity="0.55"/><polygon points="538.0,483.8 539.0,483.2 539.5,482.1 538.5,482.7" opacity="0.64"/><polygon points="538.6,487.7 539.7,487.1 540.2,486.0 539.2,486.6" opacity="0.69"/><polygon points="534.3,491.7 535.6,491.2 536.3,490.0 535.0,490.6" opacity="0.44"/><polygon points="533.6,489.2 534.2,488.5 534.2,487.6 533.7,488.3" opacity="0.90"/><polygon points="533.3,493.1 534.3,492.6 534.8,491.7 533.8,492.2" opacity="0.70"/><polygon points="533.0,502.1 533.8,501.3 534.0,500.1 533.2,501.0" opacity="0.25"/><polygon points="531.9,504.4 532.5,504.0 532.8,503.4 532.2,503.8" opacity="0.25"/><polygon points="519.1,510.7 519.9,510.2 520.2,509.4 519.5,509.9" opacity="0.25"/><polygon points="508.3,512.7 509.1,512.2 509.6,511.4 508.8,511.8" opacity="0.30"/><polygon points="506.8,513.7 507.9,513.1 508.5,512.0 507.4,512.6" opacity="0.25"/><polygon points="502.1,511.7 503.2,510.8 503.6,509.5 502.5,510.3" opacity="0.76"/><polygon points="497.8,511.1 498.2,510.8 498.4,510.2 498.0,510.5" opacity="0.25"/><polygon points="496.5,510.1 497.2,509.4 497.3,508.4 496.6,509.1" opacity="0.25"/><polygon points="495.9,505.0 496.6,504.7 497.0,504.1 496.3,504.4" opacity="0.25"/><polygon points="497.1,502.2 497.6,501.9 497.9,501.3 497.4,501.6" opacity="0.25"/><polygon points="499.3,499.4 499.8,498.9 499.9,498.2 499.4,498.7" opacity="0.61"/><polygon points="498.3,491.7 499.1,491.1 499.4,490.2 498.6,490.8" opacity="0.63"/><polygon points="494.8,490.8 496.1,490.2 496.9,489.1 495.6,489.6" opacity="0.66"/><polygon points="492.4,486.2 493.5,485.7 494.1,484.8 493.0,485.2" opacity="0.25"/><polygon points="492.3,479.8 492.8,479.5 493.1,478.9 492.5,479.2" opacity="0.73"/><polygon points="495.4,476.6 496.5,476.1 497.1,475.0 496.0,475.5" opacity="0.25"/><polygon points="493.3,472.1 494.0,471.7 494.3,471.0 493.6,471.4" opacity="0.25"/><polygon points="497.9,470.2 498.6,469.5 498.8,468.5 498.1,469.2" opacity="0.35"/><polygon points="498.6,469.0 499.6,468.3 500.1,467.2 499.1,467.9" opacity="0.38"/><polygon points="497.7,466.0 498.2,465.6 498.4,465.0 497.9,465.4" opacity="0.25"/><polygon points="482.5,435.9 483.1,435.5 483.4,434.9 482.7,435.3" opacity="0.72"/><polygon points="479.7,430.9 480.1,430.4 480.2,429.7 479.7,430.2" opacity="0.61"/><polygon points="478.9,430.4 479.8,429.5 480.1,428.2 479.1,429.1" opacity="0.63"/><polygon points="476.8,429.5 477.4,429.2 477.7,428.7 477.1,428.9" opacity="0.43"/><polygon points="479.5,426.3 480.1,425.7 480.2,424.8 479.6,425.4" opacity="0.71"/><polygon points="477.1,424.8 477.7,424.5 478.0,423.9 477.4,424.2" opacity="0.71"/><polygon points="476.4,416.3 476.9,415.9 477.1,415.3 476.6,415.7" opacity="0.82"/><polygon points="475.2,411.8 475.7,411.4 475.9,410.7 475.4,411.2" opacity="0.65"/><polygon points="470.7,412.3 471.9,411.8 472.5,410.8 471.4,411.3" opacity="0.36"/><polygon points="471.5,410.0 472.0,409.5 472.1,408.8 471.6,409.3" opacity="0.54"/><polygon points="469.7,407.4 470.2,406.9 470.3,406.2 469.8,406.7" opacity="0.26"/><polygon points="467.1,393.8 468.0,392.9 468.2,391.7 467.3,392.5" opacity="0.47"/><polygon points="470.2,392.8 471.0,392.4 471.5,391.6 470.6,392.0" opacity="0.66"/><polygon points="466.8,388.6 467.4,388.2 467.7,387.6 467.1,387.9" opacity="0.32"/><polygon points="467.0,389.3 467.8,388.7 468.1,387.8 467.3,388.4" opacity="0.50"/><polygon points="470.0,387.7 470.6,387.3 470.8,386.6 470.2,387.1" opacity="0.76"/><polygon points="482.6,370.0 483.3,369.6 483.6,369.0 482.9,369.4" opacity="0.27"/><polygon points="482.0,364.3 482.5,364.0 482.8,363.3 482.2,363.7" opacity="0.25"/><polygon points="481.0,362.9 481.5,362.2 481.6,361.4 481.1,362.0" opacity="0.25"/><polygon points="583.8,443.5 584.9,442.6 585.3,441.2 584.2,442.1" opacity="0.90"/><polygon points="585.5,444.3 586.2,443.8 586.5,443.0 585.8,443.5" opacity="0.65"/><polygon points="582.7,449.3 583.5,448.9 584.0,448.1 583.2,448.5" opacity="0.64"/><polygon points="579.1,461.9 579.8,461.6 580.3,461.0 579.6,461.3" opacity="0.55"/><polygon points="579.5,466.4 580.2,466.0 580.5,465.3 579.8,465.7" opacity="0.25"/><polygon points="576.7,467.3 577.9,466.9 578.6,465.8 577.4,466.3" opacity="0.62"/><polygon points="575.6,467.6 576.3,467.1 576.6,466.2 575.9,466.8" opacity="0.84"/><polygon points="576.1,472.9 576.9,472.5 577.4,471.8 576.6,472.1" opacity="0.39"/><polygon points="573.4,477.0 574.3,476.4 574.7,475.3 573.8,476.0" opacity="0.70"/><polygon points="574.3,478.6 574.9,478.2 575.1,477.6 574.6,478.0" opacity="0.57"/><polygon points="566.4,478.3 567.2,478.0 567.6,477.3 566.9,477.6" opacity="0.25"/><polygon points="568.4,477.4 569.2,476.6 569.4,475.5 568.6,476.3" opacity="0.53"/><polygon points="566.1,469.3 566.7,468.5 566.8,467.5 566.2,468.3" opacity="0.34"/><polygon points="627.8,416.0 628.4,415.4 628.6,414.6 628.0,415.2" opacity="0.71"/><polygon points="625.7,416.2 626.6,415.4 627.0,414.3 626.0,415.1" opacity="0.80"/><polygon points="623.9,419.1 624.7,418.7 625.2,417.8 624.3,418.3" opacity="0.63"/><polygon points="621.3,426.3 622.5,425.9 623.3,424.8 622.1,425.3" opacity="0.43"/><polygon points="620.1,425.9 620.9,425.1 621.1,423.9 620.3,424.7" opacity="0.82"/><polygon points="620.3,427.1 620.8,426.4 620.9,425.5 620.3,426.2" opacity="0.79"/><polygon points="618.8,426.4 619.8,425.8 620.3,424.7 619.3,425.3" opacity="0.76"/><polygon points="621.2,428.1 622.2,427.7 622.7,426.8 621.8,427.2" opacity="0.42"/><polygon points="621.4,429.4 622.3,428.8 622.8,427.8 621.9,428.4" opacity="0.65"/><polygon points="618.9,434.6 620.2,434.2 621.1,433.1 619.8,433.5" opacity="0.80"/><polygon points="619.2,435.2 619.9,434.6 620.2,433.7 619.5,434.3" opacity="0.90"/><polygon points="617.2,439.6 618.3,439.0 618.9,437.9 617.8,438.5" opacity="0.90"/><polygon points="618.0,441.0 618.6,440.7 618.8,440.1 618.3,440.4" opacity="0.65"/><polygon points="615.1,445.8 616.1,445.4 616.7,444.6 615.7,444.9" opacity="0.51"/><polygon points="613.4,446.5 614.6,445.8 615.2,444.6 614.0,445.3" opacity="0.64"/><polygon points="613.8,448.9 614.7,448.1 615.0,446.8 614.1,447.7" opacity="0.44"/><polygon points="608.6,451.5 609.4,450.7 609.5,449.6 608.8,450.4" opacity="0.85"/><polygon points="606.7,455.4 607.9,455.0 608.7,454.0 607.5,454.4" opacity="0.32"/><polygon points="601.4,451.4 601.9,451.0 602.1,450.3 601.6,450.8" opacity="0.45"/><polygon points="601.4,449.4 602.5,449.0 603.1,448.1 602.1,448.5" opacity="0.41"/><polygon points="602.7,444.3 603.3,443.8 603.5,443.1 603.0,443.6" opacity="0.90"/><polygon points="600.9,430.0 601.6,429.3 601.8,428.2 601.1,429.0" opacity="0.50"/><polygon points="605.2,427.8 605.7,427.2 605.8,426.4 605.3,427.0" opacity="0.85"/><polygon points="604.0,426.5 604.6,426.2 605.0,425.5 604.4,425.8" opacity="0.64"/><polygon points="603.5,424.6 604.2,423.7 604.3,422.6 603.6,423.5" opacity="0.33"/><polygon points="604.3,423.2 605.1,422.9 605.5,422.1 604.7,422.5" opacity="0.55"/><polygon points="606.9,420.2 607.9,419.7 608.5,418.7 607.5,419.2" opacity="0.69"/><polygon points="608.5,418.3 609.0,417.8 609.2,417.1 608.6,417.6" opacity="0.56"/><polygon points="610.6,418.1 611.3,417.8 611.8,417.1 611.0,417.4" opacity="0.90"/><polygon points="612.4,415.2 613.2,414.9 613.8,414.1 612.9,414.5" opacity="0.58"/><polygon points="614.8,416.6 615.3,416.1 615.4,415.4 614.9,415.9" opacity="0.71"/><polygon points="616.4,415.9 617.1,415.6 617.4,415.1 616.8,415.3" opacity="0.90"/><polygon points="616.4,413.1 617.1,412.8 617.4,412.1 616.8,412.5" opacity="0.43"/><polygon points="615.8,413.1 616.7,412.2 616.9,410.9 616.0,411.8" opacity="0.39"/><polygon points="623.0,410.5 624.0,409.8 624.3,408.7 623.4,409.4" opacity="0.56"/><polygon points="657.5,136.1 658.2,135.2 658.8,134.8 658.2,135.8" opacity="0.51"/><polygon points="658.2,136.1 658.6,135.4 658.9,135.3 658.6,136.0" opacity="0.53"/><polygon points="659.1,137.7 659.4,137.0 659.7,137.0 659.4,137.6" opacity="0.44"/><polygon points="655.1,138.1 655.6,137.2 656.2,136.9 655.6,137.8" opacity="0.32"/><polygon points="661.3,139.3 661.9,138.4 662.4,138.2 661.9,139.0" opacity="0.58"/><polygon points="655.6,131.6 656.1,130.8 656.6,130.6 656.1,131.4" opacity="0.33"/><polygon points="656.0,133.2 656.3,132.6 656.6,132.6 656.3,133.2" opacity="0.51"/><polygon points="657.6,138.2 658.1,137.4 658.6,137.2 658.1,138.0" opacity="0.59"/><polygon points="658.0,136.8 658.5,136.0 659.0,135.8 658.5,136.6" opacity="0.43"/><polygon points="661.3,139.6 662.0,138.7 662.6,138.3 662.0,139.3" opacity="0.62"/><polygon points="656.8,133.3 657.2,132.5 657.6,132.4 657.2,133.1" opacity="0.33"/><polygon points="659.7,134.8 660.4,133.9 661.0,133.6 660.4,134.5" opacity="0.47"/><polygon points="661.4,138.1 661.7,137.5 662.0,137.5 661.7,138.1" opacity="0.39"/><polygon points="660.7,135.5 661.4,134.5 662.1,134.1 661.4,135.1" opacity="0.48"/><polygon points="654.9,136.6 655.5,135.7 656.1,135.4 655.5,136.3" opacity="0.42"/><polygon points="654.9,134.3 655.6,133.4 656.3,133.0 655.6,134.0" opacity="0.64"/><polygon points="668.6,129.6 668.9,128.9 669.3,128.9 668.9,129.5" opacity="0.33"/><polygon points="673.9,129.4 674.4,128.6 674.9,128.4 674.4,129.2" opacity="0.50"/><polygon points="669.2,132.0 669.5,131.4 669.9,131.3 669.5,132.0" opacity="0.59"/><polygon points="668.5,130.5 668.9,129.8 669.3,129.7 668.9,130.4" opacity="0.42"/><polygon points="675.3,132.4 675.8,131.7 676.2,131.6 675.8,132.3" opacity="0.70"/><polygon points="669.0,130.6 669.7,129.7 670.3,129.3 669.7,130.3" opacity="0.59"/><polygon points="668.4,133.3 668.8,132.6 669.2,132.6 668.8,133.2" opacity="0.42"/><polygon points="673.8,130.1 674.2,129.3 674.6,129.2 674.2,129.9" opacity="0.33"/><polygon points="648.2,143.1 648.6,142.4 649.0,142.3 648.6,143.0" opacity="0.57"/><polygon points="649.9,142.3 650.6,141.3 651.3,140.9 650.6,141.9" opacity="0.52"/><polygon points="651.6,145.3 652.0,144.6 652.4,144.6 652.0,145.2" opacity="0.37"/><polygon points="654.0,144.9 654.4,144.2 654.8,144.1 654.4,144.8" opacity="0.39"/><polygon points="652.8,145.9 653.2,145.2 653.6,145.1 653.2,145.8" opacity="0.73"/><polygon points="653.7,143.3 654.2,142.5 654.6,142.4 654.2,143.1" opacity="0.35"/><polygon points="647.9,146.1 648.3,145.4 648.7,145.3 648.3,146.0" opacity="0.62"/><polygon points="649.3,145.1 649.8,144.3 650.3,144.1 649.8,144.9" opacity="0.43"/><polygon points="613.4,368.2 613.8,367.5 614.1,367.5 613.8,368.1" opacity="0.40"/><polygon points="617.0,371.3 617.6,370.5 618.1,370.2 617.6,371.1" opacity="0.43"/><polygon points="620.9,356.8 621.2,356.2 621.5,356.2 621.2,356.8" opacity="0.42"/><polygon points="616.1,353.7 616.5,353.0 616.8,353.0 616.5,353.6" opacity="0.47"/><polygon points="617.3,355.3 617.7,354.6 618.2,354.4 617.7,355.2" opacity="0.70"/><polygon points="621.2,367.0 621.8,366.2 622.4,365.9 621.8,366.8" opacity="0.56"/><polygon points="613.1,353.1 613.4,352.5 613.7,352.5 613.4,353.1" opacity="0.71"/><polygon points="618.7,373.5 619.0,372.9 619.3,372.9 619.0,373.5" opacity="0.59"/><polygon points="616.4,368.5 616.8,367.8 617.2,367.6 616.8,368.4" opacity="0.75"/><polygon points="612.2,364.6 612.8,363.7 613.3,363.4 612.8,364.3" opacity="0.71"/><polygon points="618.8,368.1 619.4,367.2 620.0,366.9 619.4,367.8" opacity="0.71"/><polygon points="614.9,367.7 615.5,366.8 616.2,366.4 615.5,367.4" opacity="0.69"/><polygon points="615.5,370.0 616.2,369.1 616.8,368.7 616.2,369.7" opacity="0.56"/><polygon points="617.7,360.9 618.2,360.1 618.8,359.9 618.2,360.7" opacity="0.57"/><polygon points="596.1,385.8 596.8,384.8 597.5,384.4 596.8,385.4" opacity="0.70"/><polygon points="602.7,383.7 603.3,382.8 603.9,382.5 603.3,383.4" opacity="0.56"/><polygon points="600.1,387.0 600.4,386.4 600.7,386.4 600.4,387.0" opacity="0.64"/><polygon points="595.8,385.3 596.3,384.5 596.8,384.3 596.3,385.1" opacity="0.40"/><polygon points="602.4,384.5 603.0,383.7 603.5,383.4 603.0,384.3" opacity="0.71"/><polygon points="598.1,380.5 598.6,379.8 599.0,379.7 598.6,380.4" opacity="0.61"/><polygon points="597.4,382.0 598.0,381.1 598.7,380.7 598.0,381.7" opacity="0.60"/><polygon points="600.0,387.6 600.4,386.8 600.9,386.7 600.4,387.4" opacity="0.60"/><polygon points="597.4,384.1 598.0,383.1 598.6,382.8 598.0,383.7" opacity="0.71"/><polygon points="604.3,383.6 604.8,382.8 605.3,382.5 604.8,383.4" opacity="0.44"/><polygon points="578.2,408.6 578.8,407.6 579.5,407.3 578.8,408.2" opacity="0.68"/><polygon points="581.9,419.2 582.3,418.5 582.7,418.4 582.3,419.1" opacity="0.38"/><polygon points="580.3,403.0 580.7,402.3 581.1,402.2 580.7,402.9" opacity="0.49"/><polygon points="581.3,408.3 581.8,407.6 582.2,407.4 581.8,408.2" opacity="0.68"/><polygon points="583.6,407.2 583.9,406.6 584.2,406.5 583.9,407.2" opacity="0.31"/><polygon points="582.7,397.6 583.2,396.7 583.8,396.4 583.2,397.3" opacity="0.56"/><polygon points="579.5,415.3 579.9,414.7 580.2,414.7 579.9,415.3" opacity="0.36"/><polygon points="580.1,397.2 580.7,396.3 581.4,396.0 580.7,396.9" opacity="0.41"/><polygon points="578.3,397.7 578.8,396.8 579.4,396.6 578.8,397.4" opacity="0.50"/><polygon points="581.2,412.3 581.8,411.4 582.4,411.1 581.8,412.0" opacity="0.73"/></g><path d="M588.2 235.8 L589.6 239.5 L591.6 244.2" stroke="#fff" stroke-width="0.55" fill="none" opacity="0.85"/><circle cx="613.75" cy="99.0" r="11.85" fill="#f58e86"/><circle cx="581.1" cy="170.7" r="12.25" fill="#fcbf49"/><circle cx="529.4" cy="235.0" r="13.7" fill="#fcbf49"/><circle cx="586.6" cy="225.0" r="10.0" fill="#fcbf49"/><circle cx="568.4" cy="287.9" r="9.9" fill="#fcbf49"/><circle cx="533.1" cy="310.2" r="12.9" fill="#fcbf49"/><circle cx="510.5" cy="351.6" r="13.25" fill="#fcbf49"/><circle cx="563.9" cy="353.5" r="6.4" fill="#fcbf49"/><circle cx="544.7" cy="368.3" r="10.0" fill="#fcbf49"/><circle cx="575.5" cy="376.9" r="6.9" fill="#fcbf49"/><circle cx="589.9" cy="343.25" r="8.0" fill="#cdd873"/><circle cx="604.9" cy="365.25" r="11.0" fill="#cdd873"/><circle cx="496.4" cy="404.0" r="16.75" fill="#cdd873"/><circle cx="556.25" cy="403.75" r="8.0" fill="#cdd873"/><circle cx="530.2" cy="431.8" r="11.0" fill="#cdd873"/><circle cx="495.75" cy="450.1" r="9.25" fill="#cdd873"/><circle cx="565.4" cy="444.5" r="7.25" fill="#fcbf49"/><circle cx="537.0" cy="458.9" r="8.0" fill="#fcbf49"/><circle cx="552.25" cy="477.25" r="6.9" fill="#f58e86"/><circle cx="515.5" cy="490.6" r="16.9" fill="#cdd873"/><circle cx="610.7" cy="433.3" r="7.75" fill="#f58e86"/></svg>
</body></html>
